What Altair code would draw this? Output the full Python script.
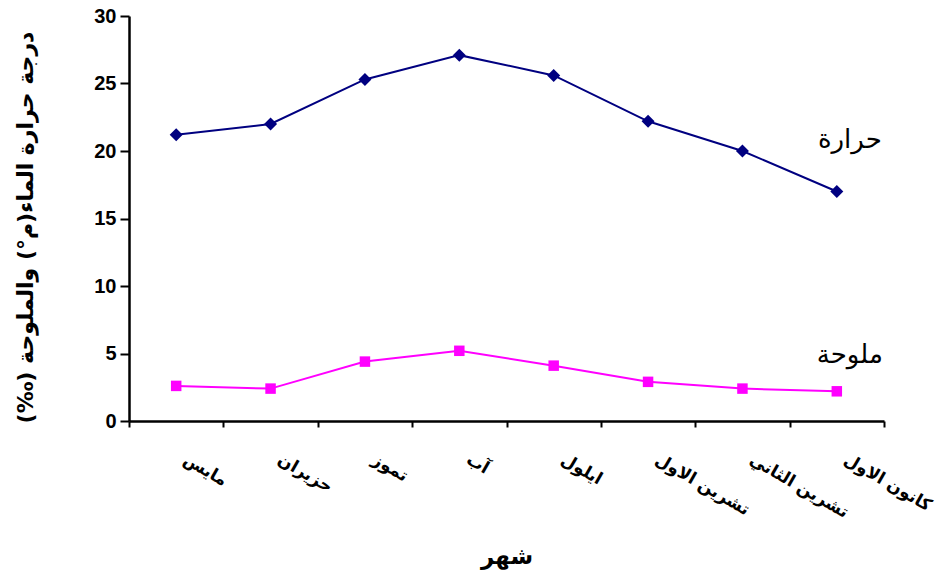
import altair as alt
import pandas as pd

# Monthly water temperature (°C) and salinity (‰)
months = ["مايس", "حزيران", "تموز", "آب", "ايلول", "تشرين الاول", "تشرين الثاني", "كانون الاول"]
temperature = [21.2, 22.0, 25.3, 27.1, 25.6, 22.2, 20.0, 17.0]
salinity = [2.6, 2.4, 4.4, 5.2, 4.1, 2.9, 2.4, 2.2]

series_names = ["حرارة", "ملوحة"]
series_label_y = [20.8, 4.9]
y_ticks = [0, 5, 10, 15, 20, 25, 30]

RLM = "\u200f"
y_title = RLM + "درجة حرارة الماء(م°) والملوحة (‰)" + RLM
x_title = "شهر"

temp_df = pd.DataFrame({"month": months, "value": temperature})
sal_df = pd.DataFrame({"month": months, "value": salinity})
lab_df = pd.DataFrame({"month": [months[-1]] * 2, "value": series_label_y, "name": series_names})

AR_FONT = "DejaVu Sans"
NUM_FONT = "Liberation Sans"

x_enc = alt.X(
    "month:N",
    sort=months,
    bandPosition=0.5,
    scale=alt.Scale(type="band", domain=months, paddingInner=0, paddingOuter=0),
    axis=alt.Axis(
        title=x_title,
        titleFont=AR_FONT,
        titleFontSize=23,
        titleFontWeight="bold",
        titleColor="black",
        titleY=142,
        titleBaseline="alphabetic",
        labelFont=AR_FONT,
        labelFontSize=17,
        labelFontWeight="bold",
        labelColor="black",
        labelAngle=30,
        labelAlign="left",
        labelBaseline="top",
        labelPadding=24,
        labelOffset=12,
        tickBand="extent",
        tickSize=6,
        tickWidth=2,
        tickColor="black",
        domainColor="black",
        domainWidth=2.5,
        grid=False,
    ),
)

y_enc = alt.Y(
    "value:Q",
    scale=alt.Scale(domain=[0, 30], nice=False, zero=True),
    axis=alt.Axis(
        values=y_ticks,
        title=y_title,
        titleFont=AR_FONT,
        titleFontSize=22,
        titleFontWeight="bold",
        titleColor="black",
        titleAngle=-90,
        titleX=-104,
        titleY=211,
        titleAlign="center",
        titleBaseline="middle",
        labelFont=NUM_FONT,
        labelFontSize=20,
        labelFontWeight="bold",
        labelColor="black",
        labelPadding=4,
        tickSize=9,
        tickWidth=2,
        tickColor="black",
        domainColor="black",
        domainWidth=2.5,
        grid=False,
    ),
)

temp_line = alt.Chart(temp_df).mark_line(color="#000080", strokeWidth=2).encode(x=x_enc, y=y_enc)
temp_pts = alt.Chart(temp_df).mark_point(
    shape="diamond", filled=True, color="#000080", size=170, opacity=1
).encode(x=x_enc, y=y_enc)

sal_line = alt.Chart(sal_df).mark_line(color="#FF00FF", strokeWidth=2).encode(x=x_enc, y=y_enc)
sal_pts = alt.Chart(sal_df).mark_point(
    shape="square", filled=True, color="#FF00FF", size=110, opacity=1
).encode(x=x_enc, y=y_enc)

labels = alt.Chart(lab_df).mark_text(
    font=AR_FONT, fontSize=26, color="black", align="center", baseline="middle", dx=13
).encode(x=x_enc, y=y_enc, text="name:N")

chart = (
    alt.layer(temp_line, temp_pts, sal_line, sal_pts, labels)
    .properties(
        width=755,
        height=405,
        autosize=alt.AutoSizeParams(type="none"),
        padding={"left": 129, "top": 16, "right": 54, "bottom": 156},
        background="white",
    )
    .configure_view(stroke=None)
)

chart.save("out.html", embed_options={"renderer": "svg", "actions": False})
